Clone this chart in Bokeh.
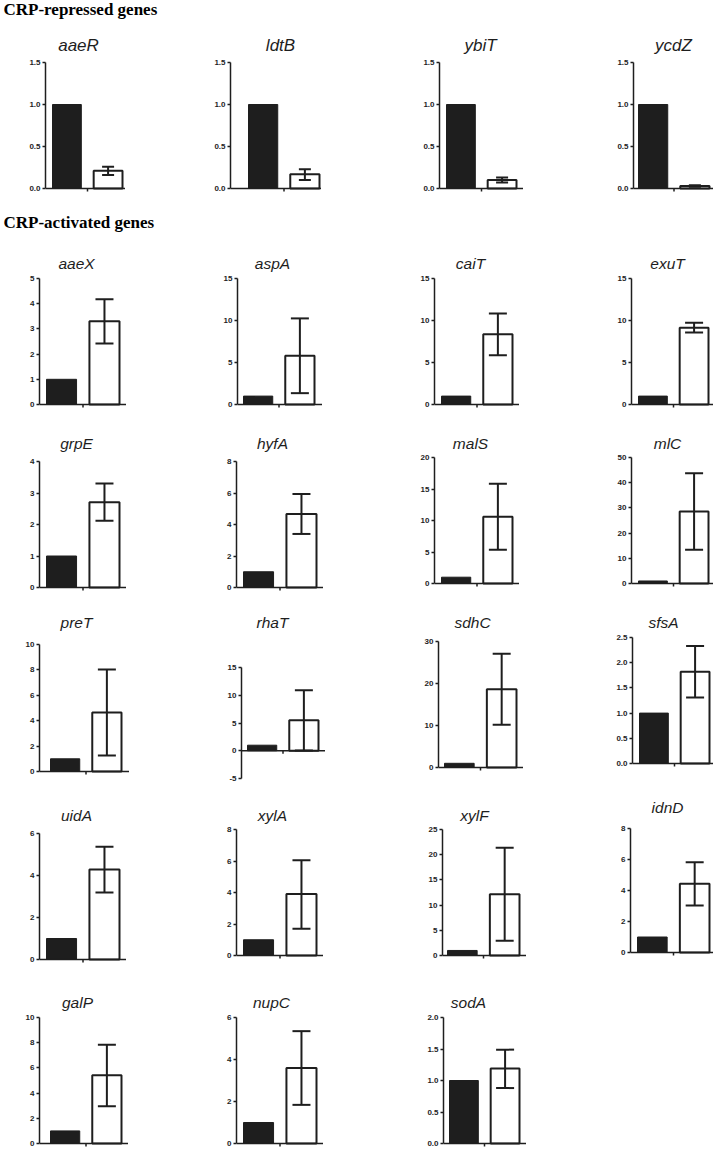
import numpy as np
from bokeh.plotting import figure
from bokeh.models import (Range1d, FixedTicker, NumeralTickFormatter, Label, Whisker, TeeHead,
                          ColumnDataSource, Span, Spacer)
from bokeh.layouts import row, column
from bokeh.embed import file_html
from bokeh.resources import INLINE

# ---------------- data ----------------
section_titles = ["CRP-repressed genes", "CRP-activated genes"]
genes = ["aaeR", "ldtB", "ybiT", "ycdZ",
         "aaeX", "aspA", "caiT", "exuT",
         "grpE", "hyfA", "malS", "mlC",
         "preT", "rhaT", "sdhC", "sfsA",
         "uidA", "xylA", "xylF", "idnD",
         "galP", "nupC", "sodA"]
control_level = [1.0, 1.0, 1.0, 1.0,
                 1.0, 1.0, 1.0, 1.0,
                 1.0, 1.0, 1.0, 1.0,
                 1.0, 1.0, 1.0, 1.0,
                 1.0, 1.0, 1.0, 1.0,
                 1.0, 1.0, 1.0]
mutant_mean = [0.21, 0.17, 0.10, 0.03,
               3.30, 5.80, 8.35, 9.15,
               2.71, 4.67, 10.6, 28.6,
               4.65, 5.50, 18.65, 1.82,
               4.28, 3.90, 12.15, 4.43,
               5.42, 3.60, 1.19]
mutant_err_low = [0.16, 0.10, 0.07, 0.02,
                  2.42, 1.35, 5.86, 8.57,
                  2.12, 3.40, 5.37, 13.4,
                  1.26, 0.05, 10.16, 1.31,
                  3.19, 1.70, 2.91, 3.03,
                  2.96, 1.84, 0.88]
mutant_err_high = [0.26, 0.23, 0.13, 0.04,
                   4.18, 10.25, 10.84, 9.72,
                   3.30, 5.94, 15.85, 43.75,
                   8.03, 10.92, 27.1, 2.33,
                   5.37, 6.05, 21.36, 5.82,
                   7.83, 5.35, 1.49]
y_axis_min = [0, 0, 0, 0,
              0, 0, 0, 0,
              0, 0, 0, 0,
              0, -5, 0, 0,
              0, 0, 0, 0,
              0, 0, 0]
y_axis_max = [1.5, 1.5, 1.5, 1.5,
              5, 15, 15, 15,
              4, 8, 20, 50,
              10, 15, 30, 2.5,
              6, 8, 25, 8,
              10, 6, 2.0]
y_tick_step = [0.5, 0.5, 0.5, 0.5,
               1, 5, 5, 5,
               1, 2, 5, 10,
               2, 5, 10, 0.5,
               2, 2, 5, 2,
               2, 2, 0.5]

# ---------------- layout (pixel positions on the page) ----------------
# axis_x, frame_top(y max), frame_bottom(y min), black_left, white_right, axis_end, title_cx, title_cy
PANEL_POS = [
    (45, 62, 188, 52, 122, 125, 78, 45),
    (230, 62, 188, 248, 319, 321, 280, 45),
    (439, 62, 188, 446, 516, 523, 480, 45),
    (633, 62, 188, 638, 709, 713, 673, 45),
    (39, 278, 404, 46, 119, 126, 76, 263),
    (237, 278, 404, 243, 314, 322, 272, 263),
    (434, 278, 404, 441, 512, 519, 470, 263),
    (631, 278, 404, 638, 708, 713, 667, 263),
    (39, 461, 587, 46, 119, 126, 76, 443),
    (236, 461, 587, 243, 316, 323, 272, 443),
    (434, 457, 583, 441, 512, 519, 470, 443),
    (631, 457, 583, 638, 708, 713, 667, 443),
    (39, 644, 771, 50, 121, 129, 76, 622),
    (241, 667, 778, 247, 318, 325, 272, 622),
    (438, 641, 767, 444, 516, 523, 472, 622),
    (632, 637, 763, 639, 709, 713, 663, 622),
    (39, 833, 959, 46, 119, 126, 76, 815),
    (236, 829, 955, 243, 316, 323, 272, 815),
    (442, 829, 955, 447, 519, 526, 474, 815),
    (630, 828, 952, 637, 709, 713, 667, 807),
    (39, 1017, 1143, 50, 121, 128, 77, 1002),
    (236, 1017, 1143, 243, 316, 323, 271, 1002),
    (443, 1017, 1143, 449, 519, 526, 468, 1002),
]
HEADERS = [  # (y0, y1, cap-centre y)
    (0, 24, 9),
    (196, 238, 222),
]
ROWS = [  # (panel indices, y0, y1)
    ([0, 1, 2, 3], 24, 196),
    ([4, 5, 6, 7], 238, 412),
    ([8, 9, 10, 11], 412, 595),
    ([12, 13, 14, 15], 595, 786),
    ([16, 17, 18, 19], 786, 967),
    ([20, 21, 22], 967, 1150),
]
PAGE_W = 720
LB = 26
BAR_W = 0.70
TICK_OUT = 3
X_TICK = 1.5
INK = "#1e1e1e"


def make_panel(i, y0, y1):
    ax_x, ftop, fbot, bl, wr, xend, tcx, tcy = PANEL_POS[i]
    fw = xend - ax_x
    s = (wr - bl) / (1 + BAR_W)
    x0 = (1 - BAR_W / 2) - (bl - ax_x) / s
    x1 = x0 + fw / s
    ymin, ymax, step = y_axis_min[i], y_axis_max[i], y_tick_step[i]
    ppu = (fbot - ftop) / (ymax - ymin)
    ytop = ymax + (ftop - y0) / ppu
    ybot = ymin - (y1 - fbot) / ppu

    p = figure(width=LB + fw, height=y1 - y0, x_range=Range1d(x0, x1), y_range=Range1d(ybot, ytop),
               x_axis_type=None, min_border_left=LB, min_border_right=0, min_border_top=0,
               min_border_bottom=0, toolbar_location=None, output_backend="svg", title=None)
    p.grid.visible = False
    p.outline_line_color = None

    p.vbar(x=[1], top=[control_level[i]], width=BAR_W, fill_color=INK, line_color=INK, line_width=1)
    p.vbar(x=[2], top=[mutant_mean[i]], width=BAR_W, fill_color="white", line_color=INK, line_width=2)

    cap = 12 if i < 4 else 18
    wsrc = ColumnDataSource(dict(x=[2], lo=[mutant_err_low[i]], hi=[mutant_err_high[i]]))
    p.add_layout(Whisker(source=wsrc, base="x", lower="lo", upper="hi", line_color=INK, line_width=2,
                         level="annotation",
                         upper_head=TeeHead(size=cap, line_color=INK, line_width=2),
                         lower_head=TeeHead(size=cap, line_color=INK, line_width=2)))

    # x axis drawn at y = 0 with one tick between the two bars
    p.add_layout(Span(location=0, dimension="width", line_color=INK, line_width=1.5))
    p.segment(x0=[X_TICK], y0=[0], x1=[X_TICK], y1=[-TICK_OUT / ppu], line_color=INK, line_width=1.5)

    yax = p.yaxis[0]
    yax.bounds = (ymin, ymax)
    ticks = [float(t) for t in np.arange(ymin, ymax + step / 2, step)]
    yax.ticker = FixedTicker(ticks=ticks)
    yax.formatter = NumeralTickFormatter(format="0.0" if step < 1 else "0")
    yax.major_label_text_font = "Liberation Sans"
    yax.major_label_text_font_style = "bold"
    yax.major_label_text_font_size = "8px"
    yax.major_label_text_color = INK
    yax.major_label_standoff = 2
    yax.axis_line_color = INK
    yax.axis_line_width = 1.5
    yax.major_tick_line_color = INK
    yax.major_tick_line_width = 1.5
    yax.major_tick_out = TICK_OUT
    yax.major_tick_in = 0
    yax.minor_tick_line_color = None

    fs = 17 if i < 4 else 15.5
    p.add_layout(Label(x=x0 + (tcx - ax_x) / s, y=ymax + (ftop - tcy) / ppu, text=genes[i],
                       text_align="center", text_baseline="middle",
                       text_font="Liberation Sans", text_font_style="italic",
                       text_font_size=f"{fs}px", text_color=INK))
    return p


def header(text, y0, y1, cy):
    h = y1 - y0
    p = figure(width=PAGE_W, height=h, x_range=Range1d(0, PAGE_W), y_range=Range1d(0, h),
               x_axis_type=None, y_axis_type=None, min_border=0,
               toolbar_location=None, output_backend="svg", title=None)
    p.outline_line_color = None
    p.add_layout(Label(x=3, y=y1 - cy, text=text, text_align="left",
                       text_baseline="middle", text_font="Liberation Serif",
                       text_font_style="bold", text_font_size="17px", text_color="#000000"))
    return p


def build_row(idxs, y0, y1):
    kids = []
    cursor = 0
    for i in idxs:
        fx = PANEL_POS[i][0] - LB
        if fx > cursor:
            kids.append(Spacer(width=fx - cursor, height=y1 - y0))
        p = make_panel(i, y0, y1)
        kids.append(p)
        cursor = fx + p.width
    return row(*kids)


items = [header(section_titles[0], *HEADERS[0]), build_row(*ROWS[0]),
         header(section_titles[1], *HEADERS[1])]
for r in ROWS[1:]:
    items.append(build_row(*r))

layout = column(*items)
open("out.html", "w").write(file_html(layout, INLINE, title="CRP genes"))
